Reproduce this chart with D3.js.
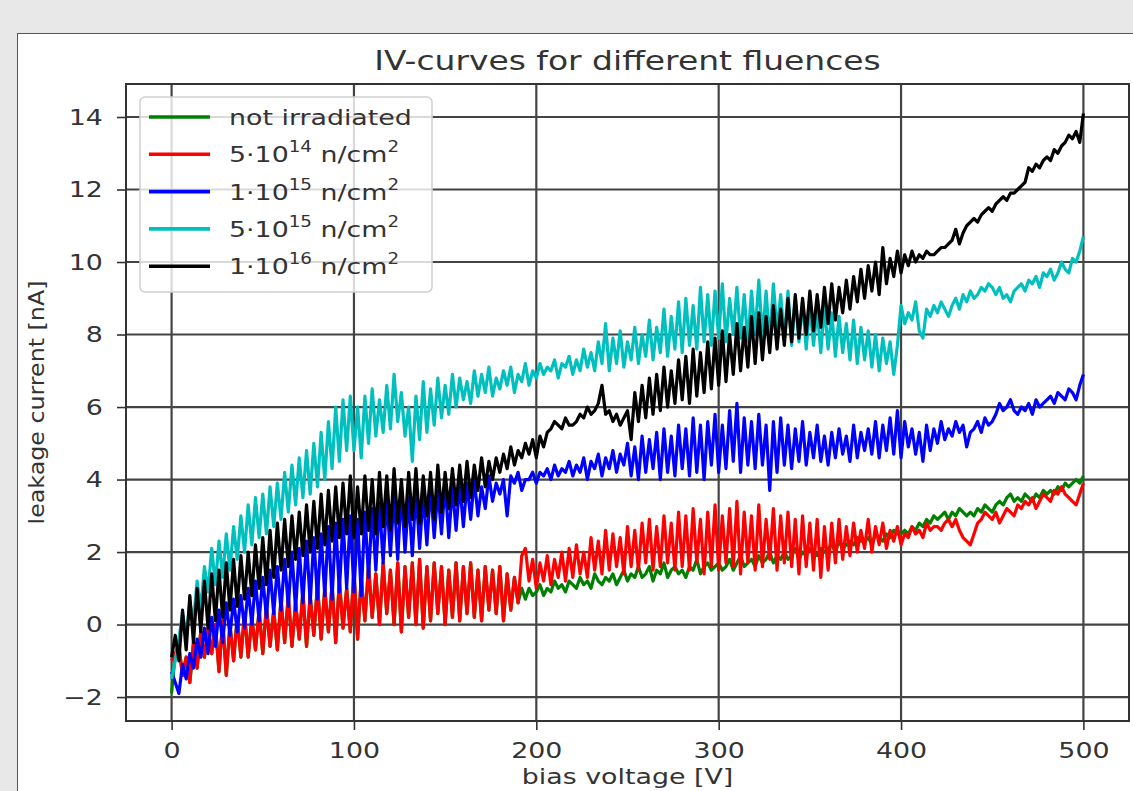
<!DOCTYPE html>
<html>
<head>
<meta charset="utf-8">
<script src="https://cdn.jsdelivr.net/npm/d3@7"></script>
<style>
body { margin: 0; background: #e8e8e8; }
svg { display: block; font-family: "DejaVu Sans", sans-serif; }
</style>
</head>
<body>
<div id="chart"></div>
<script>
// bias voltage sweep [V]
var voltage = [
  0, 2, 4, 6, 8, 10, 12, 14, 16, 18,
  20, 22, 24, 26, 28, 30, 32, 34, 36, 38,
  40, 42, 44, 46, 48, 50, 52, 54, 56, 58,
  60, 62, 64, 66, 68, 70, 72, 74, 76, 78,
  80, 82, 84, 86, 88, 90, 92, 94, 96, 98,
  100, 102, 104, 106, 108, 110, 112, 114, 116, 118,
  120, 122, 124, 126, 128, 130, 132, 134, 136, 138,
  140, 142, 144, 146, 148, 150, 152, 154, 156, 158,
  160, 162, 164, 166, 168, 170, 172, 174, 176, 178,
  180, 182, 184, 186, 188, 190, 192, 194, 196, 198,
  200, 202, 204, 206, 208, 210, 212, 214, 216, 218,
  220, 222, 224, 226, 228, 230, 232, 234, 236, 238,
  240, 242, 244, 246, 248, 250, 252, 254, 256, 258,
  260, 262, 264, 266, 268, 270, 272, 274, 276, 278,
  280, 282, 284, 286, 288, 290, 292, 294, 296, 298,
  300, 302, 304, 306, 308, 310, 312, 314, 316, 318,
  320, 322, 324, 326, 328, 330, 332, 334, 336, 338,
  340, 342, 344, 346, 348, 350, 352, 354, 356, 358,
  360, 362, 364, 366, 368, 370, 372, 374, 376, 378,
  380, 382, 384, 386, 388, 390, 392, 394, 396, 398,
  400, 402, 404, 406, 408, 410, 412, 414, 416, 418,
  420, 422, 424, 426, 428, 430, 432, 434, 436, 438,
  440, 442, 444, 446, 448, 450, 452, 454, 456, 458,
  460, 462, 464, 466, 468, 470, 472, 474, 476, 478,
  480, 482, 484, 486, 488, 490, 492, 494, 496, 498,
  500
];

// leakage current [nA]
var notIrradiated = [
  -1.9, -0.8, -0.6, -1.4, -0.9, -1.6, -0.5, -1.2, -0.2, -0.9,
  -0.1, -0.8, 0.0, -1.3, 0.1, -1.4, 0.0, -1.0, 0.2, -0.9,
  0.3, -0.9, 0.2, -0.7, 0.4, -0.8, 0.5, -0.6, 0.4, -0.7,
  0.7, -0.5, 0.8, -0.6, 0.6, -0.4, 0.9, -0.6, 0.8, -0.3,
  1.1, -0.4, 1.0, -0.2, 1.1, -0.5, 1.2, -0.1, 1.0, -0.2,
  1.5, -0.4, 1.3, 0.1, 1.6, 0.2, 1.4, 0.0, 1.7, 0.3,
  1.5, 0.0, 1.7, -0.2, 1.6, 0.2, 1.7, 0.0, 1.8, -0.1,
  1.6, 0.1, 1.7, 0.3, 1.6, 0.0, 1.5, 0.2, 1.7, 0.1,
  1.6, 0.3, 1.7, 0.2, 1.5, 0.1, 1.6, 0.4, 1.5, 0.3,
  1.6, 0.1, 1.4, 0.4, 1.3, 0.6, 1.0, 0.7, 1.0, 0.8,
  0.9, 1.1, 0.8, 1.0, 0.9, 1.2, 1.0, 1.1, 0.9, 1.2,
  1.1, 1.0, 1.3, 1.1, 1.2, 1.0, 1.4, 1.2, 1.1, 1.3,
  1.2, 1.4, 1.1, 1.3, 1.5, 1.2, 1.4, 1.3, 1.6, 1.3,
  1.4, 1.6, 1.2, 1.5, 1.4, 1.7, 1.3, 1.5, 1.6, 1.4,
  1.5, 1.3, 1.6, 1.5, 1.8, 1.4, 1.6, 1.7, 1.5, 1.6,
  1.7, 1.5, 1.6, 1.8, 1.5, 1.7, 1.9, 1.6, 1.7, 1.8,
  1.6, 1.9, 1.7, 1.8, 2.0, 1.7, 1.9, 1.8, 2.0, 1.8,
  1.9, 2.1, 1.8, 2.0, 1.9, 2.1, 2.0, 1.9, 2.1, 2.0,
  2.1, 2.2, 2.0, 2.3, 2.1, 2.2, 2.3, 2.2, 2.4, 2.3,
  2.3, 2.4, 2.2, 2.5, 2.4, 2.3, 2.5, 2.4, 2.6, 2.5,
  2.5, 2.6, 2.5, 2.7, 2.6, 2.8, 2.7, 2.9, 2.8, 3.0,
  2.9, 3.0, 3.1, 2.9, 3.1, 3.0, 3.2, 3.1, 3.0, 3.1,
  3.0, 3.2, 3.1, 3.3, 3.2, 3.1, 3.3, 3.4, 3.3, 3.5,
  3.6, 3.4, 3.5, 3.4, 3.6, 3.5, 3.4, 3.6, 3.5, 3.7,
  3.6, 3.7, 3.6, 3.8, 3.7, 3.9, 3.8, 3.9, 4.0, 3.9,
  4.1
];
var fluence5e14 = [
  -1.0, -0.8, -0.6, -1.4, -0.9, -1.6, -0.5, -1.2, -0.2, -0.9,
  -0.1, -0.8, 0.0, -1.3, 0.1, -1.4, 0.0, -1.0, 0.2, -0.9,
  0.3, -0.9, 0.2, -0.7, 0.4, -0.8, 0.5, -0.6, 0.4, -0.7,
  0.7, -0.5, 0.8, -0.6, 0.6, -0.4, 0.9, -0.6, 0.8, -0.3,
  1.1, -0.4, 1.0, -0.2, 1.1, -0.5, 1.2, -0.1, 1.0, -0.2,
  1.5, -0.4, 1.3, 0.1, 1.6, 0.2, 1.4, 0.0, 1.7, 0.3,
  1.5, 0.0, 1.7, -0.2, 1.6, 0.2, 1.7, 0.0, 1.8, -0.1,
  1.6, 0.1, 1.7, 0.3, 1.6, 0.0, 1.5, 0.2, 1.7, 0.1,
  1.6, 0.3, 1.7, 0.2, 1.5, 0.1, 1.6, 0.4, 1.5, 0.3,
  1.6, 0.1, 1.4, 0.4, 1.3, 0.6, 1.9, 2.1, 1.2, 1.8,
  1.0, 1.7, 1.2, 1.9, 1.1, 1.8, 1.3, 2.0, 1.2, 2.1,
  1.3, 2.2, 1.4, 2.0, 1.3, 2.4, 1.5, 2.3, 1.4, 2.6,
  1.5, 2.5, 1.6, 2.4, 1.4, 2.7, 1.6, 2.6, 1.5, 2.8,
  1.7, 2.9, 1.5, 2.7, 1.6, 3.0, 1.7, 2.8, 1.5, 3.1,
  1.6, 3.0, 1.5, 3.2, 1.7, 2.9, 1.4, 3.1, 1.6, 3.3,
  1.5, 3.0, 1.7, 3.2, 1.6, 3.4, 1.4, 3.1, 1.7, 3.0,
  1.5, 3.3, 1.6, 2.9, 1.8, 3.2, 1.5, 3.0, 1.7, 3.1,
  1.6, 2.9, 1.4, 3.0, 1.6, 2.8, 1.5, 2.9, 1.3, 2.7,
  1.5, 2.8, 1.7, 2.9, 1.8, 2.7, 1.9, 2.8, 2.0, 2.6,
  2.1, 2.9, 2.0, 2.7, 2.2, 2.8, 2.1, 2.6, 2.3, 2.7,
  2.2, 2.5, 2.4, 2.7, 2.5, 2.6, 2.4, 2.8, 2.6, 2.7,
  2.7, 2.6, 2.8, 2.9, 2.7, 2.9, 2.6, 2.4, 2.3, 2.2,
  2.5, 2.8, 2.9, 3.1, 3.0, 2.9, 3.1, 2.8, 3.0, 3.2,
  3.1, 3.0, 3.3, 3.2, 3.4, 3.3, 3.5, 3.2, 3.4, 3.6,
  3.5, 3.4, 3.7, 3.6, 3.8, 3.6, 3.5, 3.4, 3.3, 3.6,
  3.9
];
var fluence1e15 = [
  -1.3, -1.6, -1.9, -1.1, -1.5, -0.8, -1.2, -0.4, -0.9, -0.1,
  -0.8, 0.2, -0.6, 0.4, -0.5, 0.6, -0.3, 0.7, -0.2, 0.8,
  -0.1, 1.0, 0.0, 1.2, 0.1, 1.3, 0.2, 1.5, 0.3, 1.6,
  0.4, 1.8, 0.5, 2.0, 0.4, 2.1, 0.6, 2.3, 0.6, 2.4,
  0.7, 2.5, 0.8, 2.7, 0.7, 2.8, 0.9, 2.9, 1.0, 3.0,
  0.9, 2.9, 0.8, 3.1, 1.3, 3.2, 1.5, 3.4, 1.7, 3.5,
  1.9, 3.6, 1.8, 3.7, 2.0, 3.5, 1.9, 3.7, 2.1, 3.6,
  2.2, 3.8, 2.4, 3.7, 2.5, 3.9, 2.4, 3.8, 2.6, 3.9,
  2.7, 3.9, 2.9, 4.0, 3.0, 3.8, 3.2, 4.1, 3.4, 3.9,
  3.6, 4.0, 3.0, 4.1, 3.9, 4.2, 3.7, 4.0, 4.0, 4.2,
  3.9, 4.2, 4.1, 4.3, 4.0, 4.4, 4.1, 4.3, 4.2, 4.5,
  4.1, 4.4, 4.2, 4.6, 4.0, 4.5, 4.3, 4.7, 4.1, 4.6,
  4.3, 4.8, 4.2, 4.7, 4.4, 5.0, 4.1, 4.9, 4.0, 5.2,
  4.2, 5.1, 4.3, 5.3, 4.0, 5.4, 4.2, 5.2, 4.1, 5.5,
  4.3, 5.4, 4.1, 5.7, 4.2, 5.5, 4.0, 5.6, 4.4, 5.8,
  4.2, 5.5, 4.3, 5.9, 4.5, 6.1, 4.2, 5.7, 4.4, 5.6,
  4.3, 5.8, 4.4, 5.5, 3.7, 5.6, 4.2, 5.7, 4.4, 5.5,
  4.3, 5.4, 4.5, 5.6, 4.4, 5.3, 4.6, 5.5, 4.5, 5.2,
  4.4, 5.3, 4.6, 5.4, 4.7, 5.2, 4.5, 5.5, 4.6, 5.3,
  4.8, 5.4, 4.7, 5.6, 4.6, 5.5, 4.8, 5.7, 4.7, 5.9,
  4.6, 5.6, 4.9, 5.4, 4.7, 5.3, 4.5, 5.5, 4.8, 5.4,
  5.0, 5.6, 5.1, 5.4, 5.2, 5.6, 5.3, 5.5, 4.9, 5.3,
  5.4, 5.6, 5.3, 5.7, 5.5, 5.6, 5.8, 6.1, 5.9, 6.0,
  6.2, 5.9, 5.8, 6.0, 5.9, 6.1, 5.8, 6.2, 6.0, 6.1,
  6.2, 6.3, 6.1, 6.4, 6.3, 6.2, 6.5, 6.4, 6.2, 6.6,
  6.9
];
var fluence5e15 = [
  -1.5, -1.0, -0.4, 0.3, -0.3, 0.6, 0.1, 1.2, 0.4, 1.6,
  0.9, 2.1, 1.1, 2.3, 1.3, 2.5, 1.5, 2.7, 1.8, 3.0,
  2.0, 3.3, 2.2, 3.5, 2.4, 3.6, 2.5, 3.8, 2.7, 3.9,
  2.9, 4.2, 3.1, 4.4, 3.3, 4.6, 3.5, 4.8, 3.6, 5.0,
  3.8, 5.3, 4.0, 5.6, 4.3, 6.0, 4.5, 6.2, 4.8, 6.3,
  4.8, 6.0, 4.6, 6.3, 5.0, 6.5, 5.2, 6.2, 5.3, 6.6,
  5.4, 6.9, 5.6, 6.4, 5.2, 6.0, 4.5, 6.3, 5.1, 6.7,
  5.3, 6.5, 5.5, 6.8, 5.7, 6.6, 5.8, 6.9, 6.0, 6.8,
  6.2, 6.7, 6.1, 7.0, 6.3, 6.9, 6.4, 7.1, 6.3, 6.8,
  6.5, 7.0, 6.6, 7.1, 6.4, 6.9, 6.7, 7.2, 6.6, 7.0,
  6.8, 7.2, 6.9, 7.1, 7.0, 7.3, 6.8, 7.2, 7.1, 7.4,
  6.9, 7.3, 7.0, 7.6, 7.1, 7.5, 7.0, 7.8, 7.2, 8.3,
  7.0, 7.9, 7.2, 8.1, 7.1, 7.8, 7.3, 8.2, 7.2, 8.0,
  7.4, 8.4, 7.3, 8.2, 7.5, 8.7, 7.4, 8.5, 7.6, 8.9,
  7.5, 9.0, 7.7, 8.8, 7.6, 9.3, 7.8, 9.1, 7.7, 9.2,
  7.9, 9.4, 7.8, 9.0, 8.0, 9.3, 7.9, 9.1, 7.8, 9.2,
  8.0, 9.5, 7.9, 9.2, 7.8, 9.4, 8.1, 9.1, 7.9, 9.2,
  7.7, 9.0, 7.8, 8.9, 7.6, 8.8, 7.7, 8.7, 7.5, 8.8,
  7.6, 8.6, 7.4, 8.5, 7.5, 8.3, 7.3, 8.4, 7.2, 8.2,
  7.3, 8.1, 7.1, 8.0, 7.0, 7.9, 7.2, 7.8, 6.9, 7.7,
  8.8, 8.3, 8.6, 8.4, 8.9, 8.1, 7.9, 8.7, 8.5, 8.8,
  8.6, 8.9, 8.7, 8.5, 8.8, 9.0, 8.7, 9.1, 8.9, 9.2,
  9.0, 9.1, 9.3, 9.2, 9.4, 9.3, 9.1, 9.3, 9.0, 9.1,
  8.9, 9.2, 9.3, 9.4, 9.2, 9.5, 9.4, 9.6, 9.3, 9.7,
  9.6, 9.8, 9.5, 9.7, 10.0, 9.8, 9.7, 10.1, 10.0, 10.3,
  10.7
];
var fluence1e16 = [
  -0.9, -0.3, -1.0, 0.4, -0.7, 0.8, -0.5, 1.0, -0.2, 1.2,
  -0.1, 1.4, 0.1, 1.5, 0.2, 1.7, 0.4, 1.8, 0.5, 1.9,
  0.7, 2.0, 0.8, 2.2, 1.0, 2.4, 1.1, 2.6, 1.3, 2.8,
  1.5, 2.9, 1.6, 3.0, 1.8, 3.1, 1.9, 3.3, 2.0, 3.4,
  2.1, 3.6, 2.2, 3.7, 2.3, 3.8, 2.4, 3.9, 2.5, 4.1,
  2.4, 3.8, 2.5, 4.1, 2.6, 4.0, 2.5, 4.2, 2.7, 4.1,
  2.6, 4.3, 2.8, 4.0, 2.7, 4.2, 2.9, 4.3, 2.8, 4.1,
  3.0, 4.2, 2.9, 4.4, 3.1, 4.2, 3.2, 4.3, 3.3, 4.4,
  3.4, 4.5, 3.5, 4.4, 3.7, 4.6, 3.8, 4.5, 4.0, 4.6,
  4.2, 4.7, 4.3, 4.9, 4.4, 4.8, 4.6, 5.0, 4.7, 5.1,
  4.6, 5.2, 4.9, 5.3, 5.4, 5.6, 5.5, 5.4, 5.7, 5.5,
  5.5, 5.6, 5.8, 5.7, 6.0, 5.8, 5.9, 6.1, 6.6, 5.8,
  5.9, 5.6, 5.8, 5.5, 5.7, 5.9, 5.1, 6.4, 5.6, 6.6,
  5.7, 6.8, 5.8, 6.9, 5.9, 7.1, 6.0, 7.0, 6.1, 7.3,
  6.2, 7.4, 6.1, 7.6, 6.3, 7.5, 6.4, 7.8, 6.5, 7.9,
  6.6, 8.1, 6.7, 8.0, 6.9, 8.3, 7.0, 8.2, 7.1, 8.5,
  7.2, 8.6, 7.3, 8.5, 7.5, 8.8, 7.6, 8.7, 7.7, 9.0,
  7.8, 9.1, 7.9, 9.0, 8.0, 9.2, 8.1, 9.1, 8.2, 9.3,
  8.3, 9.4, 8.4, 9.3, 8.6, 9.5, 8.7, 9.6, 8.9, 9.8,
  9.0, 9.9, 9.2, 10.0, 9.1, 10.4, 9.4, 10.1, 9.6, 10.3,
  9.7, 10.2, 9.9, 10.3, 10.0, 10.2, 10.1, 10.3, 10.2, 10.2,
  10.3, 10.4, 10.4, 10.5, 10.6, 10.9, 10.5, 10.8, 11.0, 11.1,
  11.2, 11.1, 11.3, 11.4, 11.5, 11.4, 11.6, 11.7, 11.8, 11.7,
  11.9, 11.9, 12.0, 12.1, 12.2, 12.6, 12.5, 12.7, 12.6, 12.8,
  12.9, 12.8, 13.1, 13.0, 13.2, 13.3, 13.5, 13.4, 13.6, 13.3,
  14.1
];

var seriesData = [notIrradiated, fluence5e14, fluence1e15, fluence5e15, fluence1e16];
var seriesColors = ["#008000", "#ff0000", "#0000ff", "#00bfbf", "#000000"];
var legendLabels = ["not irradiated", "5·10^14 n/cm^2", "1·10^15 n/cm^2", "5·10^15 n/cm^2", "1·10^16 n/cm^2"];
var xTicks = [0, 100, 200, 300, 400, 500];
var yTicks = [-2, 0, 2, 4, 6, 8, 10, 12, 14];

var svgWidth = 1133;
var svgHeight = 791;
var margin = {top: 84, right: 4, bottom: 70, left: 126};
var width = svgWidth - margin.left - margin.right;
var height = svgHeight - margin.top - margin.bottom;
var sx = 1.22; // picture is stretched sideways

var svg = d3.select("#chart")
    .append("svg")
    .attr("width", svgWidth)
    .attr("height", svgHeight);

svg.append("rect")
    .attr("width", svgWidth).attr("height", svgHeight)
    .attr("fill", "#e8e8e8");
svg.append("rect")
    .attr("x", 17.5).attr("y", 33.5)
    .attr("width", 1200).attr("height", 900)
    .attr("fill", "#fff")
    .attr("stroke", "#555").attr("stroke-width", 1);

var xScale = d3.scaleLinear().domain([-25, 525]).range([0, width]);
var yScale = d3.scaleLinear().domain([-2.66, 14.91]).range([height, 0]);

var chartGroup = svg.append("g")
    .attr("transform", `translate(${margin.left}, ${margin.top})`);

chartGroup.append("clipPath").attr("id", "clip")
    .append("rect").attr("width", width).attr("height", height);

// grid
chartGroup.append("g").selectAll("line").data(xTicks).enter().append("line")
    .attr("x1", d => xScale(d)).attr("x2", d => xScale(d))
    .attr("y1", 0).attr("y2", height)
    .attr("stroke", "#444").attr("stroke-width", 2.2);
chartGroup.append("g").selectAll("line").data(yTicks).enter().append("line")
    .attr("x1", 0).attr("x2", width)
    .attr("y1", d => yScale(d)).attr("y2", d => yScale(d))
    .attr("stroke", "#444").attr("stroke-width", 2.2);

// curves
var line = d3.line()
    .x((d, i) => xScale(voltage[i]))
    .y(d => yScale(d));

chartGroup.append("g").attr("clip-path", "url(#clip)")
    .selectAll("path").data(seriesData).enter().append("path")
    .attr("d", d => line(d))
    .attr("fill", "none")
    .attr("stroke", (d, i) => seriesColors[i])
    .attr("stroke-width", 3.2)
    .attr("stroke-linejoin", "round");

// spines
chartGroup.append("rect")
    .attr("width", width).attr("height", height)
    .attr("fill", "none").attr("stroke", "#333").attr("stroke-width", 2);

// axes
var XAxis = chartGroup.append("g")
    .attr("transform", `translate(0, ${height})`)
    .call(d3.axisBottom(xScale).tickValues(xTicks).tickSize(9).tickPadding(12).tickFormat(d3.format("d")));
var YAxis = chartGroup.append("g")
    .call(d3.axisLeft(yScale).tickValues(yTicks).tickSize(9).tickPadding(10).tickFormat(d3.format("d")));

[XAxis, YAxis].forEach(function(ax) {
    ax.attr("font-size", 22).attr("font-family", "DejaVu Sans, sans-serif");
    ax.select(".domain").remove();
    ax.selectAll("line").attr("stroke", "#333").attr("stroke-width", 1.6);
    ax.selectAll("text").attr("fill", "#333").attr("transform", `scale(${sx},1)`);
});

// legend
var legend = chartGroup.append("g").attr("transform", "translate(14, 13)");
legend.append("rect")
    .attr("width", 292).attr("height", 195).attr("rx", 5)
    .attr("fill", "#fff").attr("fill-opacity", 0.8)
    .attr("stroke", "#cfcfcf").attr("stroke-width", 1.5);

legendLabels.forEach(function(label, i) {
    var rowY = 20 + i * 37.3;
    legend.append("line")
        .attr("x1", 9).attr("x2", 70)
        .attr("y1", rowY).attr("y2", rowY)
        .attr("stroke", seriesColors[i]).attr("stroke-width", 3.6);
    var text = legend.append("g")
        .attr("transform", `translate(89, ${rowY + 8}) scale(${sx},1)`)
        .append("text")
        .attr("fill", "#333")
        .style("font-size", "22px");
    var parts = label.split(/\^(\d+)/);
    parts.forEach(function(p, j) {
        if (p === "") return;
        if (j % 2 === 1) {
            text.append("tspan").attr("dy", -10).style("font-size", "15px").text(p);
        } else {
            text.append("tspan").attr("dy", j > 0 ? 10 : 0).text(p);
        }
    });
});

// titles
svg.append("g")
    .attr("transform", `translate(${margin.left + width / 2}, 70) scale(${sx},1)`)
    .append("text")
    .attr("text-anchor", "middle").attr("fill", "#333")
    .style("font-size", "27px")
    .text("IV-curves for different fluences");

svg.append("g")
    .attr("transform", `translate(${margin.left + width / 2}, 784) scale(${sx},1)`)
    .append("text")
    .attr("text-anchor", "middle").attr("fill", "#333")
    .style("font-size", "22px")
    .text("bias voltage [V]");

svg.append("g")
    .attr("transform", `translate(44, ${margin.top + height / 2}) rotate(-90) scale(1.08,1)`)
    .append("text")
    .attr("text-anchor", "middle").attr("fill", "#333")
    .style("font-size", "22px")
    .text("leakage current [nA]");
</script>
</body>
</html>
